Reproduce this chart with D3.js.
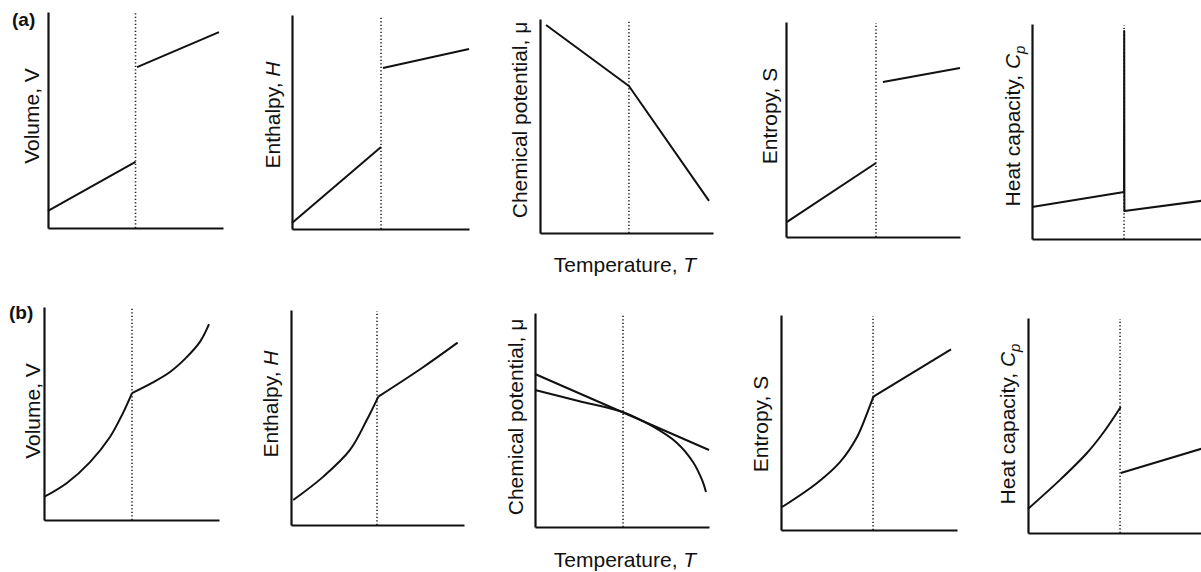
<!DOCTYPE html>
<html>
<head>
<meta charset="utf-8">
<script src="https://cdn.jsdelivr.net/npm/d3@7"></script>
<style>
  body { margin: 0; background: #fff; }
  svg { display: block; font-family: "Liberation Sans", Arial, sans-serif; }
  .eixo path { stroke: #111; stroke-width: 2.2; }
  .curva { fill: none; stroke: #111; stroke-width: 2; stroke-linejoin: round; }
  .transicao { stroke: #222; stroke-width: 1.6; stroke-dasharray: 1.3 2.2; }
  .titulo { font-size: 21px; fill: #111; }
  .linha { font-size: 19px; font-weight: bold; fill: #111; }
</style>
</head>
<body>
<svg id="grafico"></svg>
<script>
// Dados (escala arbitraria 0-10 em T e na grandeza)
var rotulosLinhas = ['(a)', '(b)'];
var titulosY = [
  [{t: 'Volume, '}, {t: 'V'}],
  [{t: 'Enthalpy, '}, {t: 'H', i: true}],
  [{t: 'Chemical potential, \u03bc'}],
  [{t: 'Entropy, S'}],
  [{t: 'Heat capacity, '}, {t: 'C', i: true}, {t: 'p', i: true, sub: true}]
];
var tituloX = [{t: 'Temperature, '}, {t: 'T', i: true}];

// temperatura de transicao de cada painel
var transicaoA = [5.0, 5.03, 5.14, 5.17, 5.26];
var transicaoB = [5.03, 4.97, 5.06, 5.23, 5.26];

// (a) transicao de primeira ordem
var volumeA = [[[0, 0.79], [5.0, 3.06]], [[5.09, 7.45], [9.77, 9.07]]];
var entalpiaA = [[[0, 0.28], [5.03, 3.83]], [[5.14, 7.52], [10, 8.41]]];
var potencialA = [[[0.35, 9.72], [5.14, 6.87], [9.77, 1.5]]];
var entropiaA = [[[0.06, 0.7], [5.17, 3.44]], [[5.57, 7.21], [10, 7.86]]];
var capacidadeA = [[[0, 1.49], [5.26, 2.19], [5.27, 9.67], [5.28, 1.3], [10, 1.81]]];

// (b) transicao de segunda ordem
var volumeB = [
  [[0, 1.08], [1.31, 1.74], [2.63, 2.72], [3.77, 3.9], [4.51, 5.02], [5.03, 5.96]],
  [[5.03, 5.96], [6.2, 6.45], [7.2, 6.95], [8.1, 7.6], [8.9, 8.35], [9.43, 9.2]]
];
var entalpiaB = [
  [[0.13, 1.16], [1.87, 2.25], [3.41, 3.49], [4.38, 4.88], [5.05, 5.97]],
  [[5.05, 5.97], [7.55, 7.29], [9.63, 8.48]]
];
var potencialB = [
  [[0, 7.15], [10, 3.6]],
  [[0, 6.4], [2.5, 5.89], [5.06, 5.37], [6.72, 4.72], [8.16, 3.93], [9.08, 3.04], [9.6, 2.2], [9.83, 1.64]]
];
var entropiaB = [
  [[0.06, 1.07], [2.05, 2.19], [3.35, 3.16], [4.32, 4.33], [4.96, 5.58], [5.25, 6.2]],
  [[5.25, 6.2], [9.66, 8.4]]
];
var capacidadeB = [
  [[0, 1.12], [1.83, 2.47], [3.37, 3.72], [4.29, 4.65], [5.3, 5.86]],
  [[5.3, 2.79], [10, 3.94]]
];

var seriesA = [volumeA, entalpiaA, potencialA, entropiaA, capacidadeA];
var seriesB = [volumeB, entalpiaB, potencialB, entropiaB, capacidadeB];

// Geometria dos paineis (pixels)
var caixasA = [
  {x0: 48, x1: 223, topo: 12, base: 228, ty: [39, 116]},
  {x0: 292, x1: 469, topo: 15, base: 229, ty: [280, 115]},
  {x0: 540, x1: 713, topo: 19, base: 233, ty: [527, 120]},
  {x0: 786, x1: 960, topo: 22, base: 237, ty: [777, 116]},
  {x0: 1032, x1: 1207, topo: 24, base: 239, ty: [1020, 126]}
];
var caixasB = [
  {x0: 44, x1: 219, topo: 307, base: 520, ty: [40, 411]},
  {x0: 291, x1: 464, topo: 310, base: 525, ty: [278, 404]},
  {x0: 535, x1: 709, topo: 313, base: 527, ty: [523, 417]},
  {x0: 781, x1: 957, topo: 315, base: 530, ty: [768, 424]},
  {x0: 1028, x1: 1203, topo: 318, base: 533, ty: [1015, 424]}
];

var svg = d3.select('#grafico').attr('width', 1201).attr('height', 572);

function escrevaPartes(texto, partes) {
  partes.forEach(function(p) {
    var ts = texto.append('tspan').text(p.t);
    if (p.i) ts.style('font-style', 'italic');
    if (p.sub) ts.attr('dy', 5).style('font-size', '15px');
  });
}

function desenhePainel(caixa, segmentos, transicao, curva) {
  var x = d3.scaleLinear().domain([0, 10]).range([caixa.x0, caixa.x1]);
  var y = d3.scaleLinear().domain([0, 10]).range([caixa.base, caixa.topo]);
  var g = svg.append('g');

  // linha pontilhada da temperatura de transicao
  g.append('line').classed('transicao', true)
    .attr('x1', x(transicao)).attr('x2', x(transicao))
    .attr('y1', y(0)).attr('y2', y(10) + 1);

  // eixos sem marcas
  g.append('g').classed('eixo', true)
    .attr('transform', 'translate(0,' + caixa.base + ')')
    .call(d3.axisBottom(x).ticks(0).tickSizeOuter(0));
  g.append('g').classed('eixo', true)
    .attr('transform', 'translate(' + caixa.x0 + ',0)')
    .call(d3.axisLeft(y).ticks(0).tickSizeOuter(0));

  var linha = d3.line().x(d => x(d[0])).y(d => y(d[1])).curve(curva);
  g.selectAll('.curva').data(segmentos).enter()
    .append('path').classed('curva', true)
    .attr('d', linha);
}

[[caixasA, seriesA, transicaoA, d3.curveLinear],
 [caixasB, seriesB, transicaoB, d3.curveCatmullRom.alpha(0.5)]].forEach(function(lp) {
  lp[0].forEach(function(c, k) {
    desenhePainel(c, lp[1][k], lp[2][k], lp[3]);
    var t = svg.append('text').classed('titulo', true)
      .attr('text-anchor', 'middle')
      .attr('transform', 'translate(' + c.ty[0] + ',' + c.ty[1] + ') rotate(-90)');
    escrevaPartes(t, titulosY[k]);
  });
});

// rotulos das linhas
svg.append('text').classed('linha', true).attr('x', 12).attr('y', 26).text(rotulosLinhas[0]);
svg.append('text').classed('linha', true).attr('x', 9).attr('y', 319).text(rotulosLinhas[1]);

// titulo do eixo de temperatura (painel central)
[272, 567].forEach(function(yb) {
  var t = svg.append('text').classed('titulo', true)
    .attr('text-anchor', 'middle').attr('x', 625).attr('y', yb);
  escrevaPartes(t, tituloX);
});
</script>
</body>
</html>
